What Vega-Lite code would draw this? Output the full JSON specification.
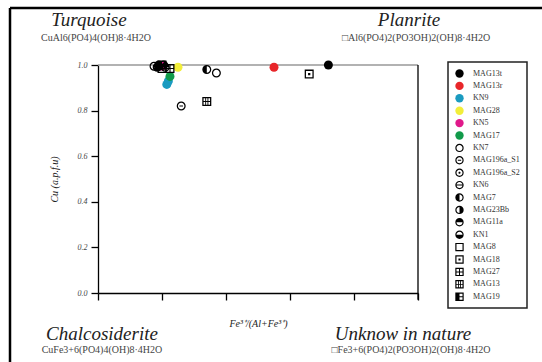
{
  "$schema": "https://vega.github.io/schema/vega-lite/v6.json",
  "autosize": "none",
  "width": 320,
  "height": 228,
  "padding": {"left": 98, "top": 65, "right": 124, "bottom": 69},
  "background": "white",
  "config": {
    "view": {"stroke": null},
    "font": "Liberation Serif",
    "axis": {"grid": false, "domainColor": "#000", "tickColor": "#000", "labelFont": "Liberation Serif", "titleFont": "Liberation Serif", "labelFontStyle": "italic", "titleFontStyle": "italic", "titleFontWeight": "normal", "labelColor": "#444", "titleColor": "#222"},
    "legend": {"strokeColor": "#222", "strokeWidth": 1.5, "padding": 7, "symbolSize": 70, "symbolStrokeWidth": 0, "labelFont": "Liberation Serif", "labelFontSize": 8, "labelColor": "#333", "rowPadding": 3.4, "labelOffset": 9, "fillColor": "white"}
  },
  "datasets": {
    "samples": [
      {"sample": "MAG13t", "fe": 0.72, "cu": 1.0},
      {"sample": "MAG13t", "fe": 0.19, "cu": 1.0},
      {"sample": "MAG13r", "fe": 0.55, "cu": 0.99},
      {"sample": "KN9", "fe": 0.215, "cu": 0.915},
      {"sample": "KN9", "fe": 0.22, "cu": 0.93},
      {"sample": "MAG28", "fe": 0.25, "cu": 0.99},
      {"sample": "KN5", "fe": 0.2, "cu": 0.995},
      {"sample": "MAG17", "fe": 0.225, "cu": 0.95},
      {"sample": "KN7", "fe": 0.37, "cu": 0.965},
      {"sample": "MAG196a_S1", "fe": 0.26, "cu": 0.82},
      {"sample": "MAG196a_S2", "fe": 0.175, "cu": 0.995},
      {"sample": "KN6", "fe": 0.19, "cu": 0.995},
      {"sample": "MAG7", "fe": 0.34, "cu": 0.98},
      {"sample": "MAG23Bb", "fe": 0.205, "cu": 1.0},
      {"sample": "MAG11a", "fe": 0.21, "cu": 0.99},
      {"sample": "KN1", "fe": 0.185, "cu": 0.99},
      {"sample": "MAG8", "fe": 0.2, "cu": 0.985},
      {"sample": "MAG18", "fe": 0.66, "cu": 0.96},
      {"sample": "MAG27", "fe": 0.225, "cu": 0.985},
      {"sample": "MAG13", "fe": 0.34, "cu": 0.84},
      {"sample": "MAG19", "fe": 0.2, "cu": 1.0}
    ],
    "ends": [
      {"name": "Turquoise", "formula": "CuAl6(PO4)4(OH)8·4H2O", "fe": 0, "cu": 1},
      {"name": "Planrite", "formula": "□Al6(PO4)2(PO3OH)2(OH)8·4H2O", "fe": 1, "cu": 1},
      {"name": "Chalcosiderite", "formula": "CuFe3+6(PO4)4(OH)8·4H2O", "fe": 0, "cu": 0},
      {"name": "Unknow in nature", "formula": "□Fe3+6(PO4)2(PO3OH)2(OH)8·4H2O", "fe": 1, "cu": 0}
    ]
  },
  "layer": [
    {
      "data": {"values": [{}]},
      "mark": {"type": "rule", "color": "#000", "strokeWidth": 2.5},
      "encoding": {"x": {"datum": -0.275, "type": "quantitative"}, "y": {"datum": 1.25, "type": "quantitative"}, "y2": {"datum": -0.32}}
    },
    {
      "data": {"values": [{}]},
      "mark": {"type": "rule", "color": "#000", "strokeWidth": 2.5},
      "encoding": {"y": {"datum": 1.25, "type": "quantitative"}, "x": {"datum": -0.275, "type": "quantitative"}, "x2": {"datum": 1.4}}
    },
    {
      "data": {"values": [{}]},
      "mark": {"type": "rule", "color": "#999", "strokeWidth": 1.5},
      "encoding": {"y": {"datum": 1, "type": "quantitative"}}
    },
    {
      "data": {"values": [{}]},
      "mark": {"type": "rule", "color": "#000", "strokeWidth": 1.3},
      "encoding": {"x": {"datum": 1, "type": "quantitative"}, "y": {"datum": -0.03, "type": "quantitative"}, "y2": {"datum": 1}}
    },
    {
      "data": {"name": "samples"},
      "mark": {"type": "point", "filled": true, "size": 81, "strokeWidth": 0, "opacity": 1},
      "encoding": {
        "x": {"field": "fe", "type": "quantitative", "scale": {"domain": [0, 1], "nice": false, "zero": false},
          "axis": {"values": [0, 0.2, 0.4, 0.6, 0.8, 1], "labels": false, "tickSize": 7, "domainWidth": 1.3, "tickWidth": 1.3, "title": "Fe³⁺/(Al+Fe³⁺)", "titleFontSize": 10, "titlePadding": 18}},
        "y": {"field": "cu", "type": "quantitative", "scale": {"domain": [0, 1], "nice": false, "zero": false},
          "axis": {"values": [0, 0.2, 0.4, 0.6, 0.8, 1], "format": ".1f", "tickSize": 7, "domainWidth": 1.3, "tickWidth": 1.3, "labelFontSize": 8, "labelPadding": 4, "title": "Cu (a.p.f.u)", "titleFontSize": 10, "titlePadding": 18}},
        "shape": {"field": "sample", "type": "nominal",
          "scale": {
            "domain": ["MAG13t", "MAG13r", "KN9", "MAG28", "KN5", "MAG17", "KN7", "MAG196a_S1", "MAG196a_S2", "KN6", "MAG7", "MAG23Bb", "MAG11a", "KN1", "MAG8", "MAG18", "MAG27", "MAG13", "MAG19"],
            "range": [
              "circle", "circle", "circle", "circle", "circle", "circle",
              "M-1,0A1,1 0 1,1 1,0A1,1 0 1,1 -1,0Z M-0.72,0A0.72,0.72 0 1,0 0.72,0A0.72,0.72 0 1,0 -0.72,0Z",
              "M-1,0A1,1 0 1,1 1,0A1,1 0 1,1 -1,0Z M-0.72,0A0.72,0.72 0 1,0 0.72,0A0.72,0.72 0 1,0 -0.72,0Z M-0.4,-0.11L0.4,-0.11L0.4,0.11L-0.4,0.11Z",
              "M-1,0A1,1 0 1,1 1,0A1,1 0 1,1 -1,0Z M-0.72,0A0.72,0.72 0 1,0 0.72,0A0.72,0.72 0 1,0 -0.72,0Z M-0.25,0A0.25,0.25 0 1,1 0.25,0A0.25,0.25 0 1,1 -0.25,0Z",
              "M-1,0A1,1 0 1,1 1,0A1,1 0 1,1 -1,0Z M-0.72,0A0.72,0.72 0 1,0 0.72,0A0.72,0.72 0 1,0 -0.72,0Z M-0.75,-0.12L0.75,-0.12L0.75,0.12L-0.75,0.12Z",
              "M-1,0A1,1 0 1,1 1,0A1,1 0 1,1 -1,0Z M-0.72,0A0.72,0.72 0 1,0 0.72,0A0.72,0.72 0 1,0 -0.72,0Z M0,0.72A0.72,0.72 0 0,1 0,-0.72Z",
              "M-1,0A1,1 0 1,1 1,0A1,1 0 1,1 -1,0Z M-0.72,0A0.72,0.72 0 1,0 0.72,0A0.72,0.72 0 1,0 -0.72,0Z M0,-0.72A0.72,0.72 0 0,1 0,0.72Z",
              "M-1,0A1,1 0 1,1 1,0A1,1 0 1,1 -1,0Z M-0.72,0A0.72,0.72 0 1,0 0.72,0A0.72,0.72 0 1,0 -0.72,0Z M-0.72,0A0.72,0.72 0 0,1 0.72,0Z",
              "M-1,0A1,1 0 1,1 1,0A1,1 0 1,1 -1,0Z M-0.72,0A0.72,0.72 0 1,0 0.72,0A0.72,0.72 0 1,0 -0.72,0Z M0.72,0A0.72,0.72 0 0,1 -0.72,0Z",
              "M-1,-1L1,-1L1,1L-1,1Z M-0.72,-0.72L-0.72,0.72L0.72,0.72L0.72,-0.72Z",
              "M-1,-1L1,-1L1,1L-1,1Z M-0.72,-0.72L-0.72,0.72L0.72,0.72L0.72,-0.72Z M-0.25,-0.25L0.25,-0.25L0.25,0.25L-0.25,0.25Z",
              "M-1,-1L1,-1L1,1L-1,1Z M-0.72,-0.72L-0.72,0.72L0.72,0.72L0.72,-0.72Z M-0.12,-0.75L0.12,-0.75L0.12,0.75L-0.12,0.75Z M-0.75,-0.12L0.75,-0.12L0.75,0.12L-0.75,0.12Z",
              "M-1,-1L1,-1L1,1L-1,1Z M-0.72,-0.72L-0.72,0.72L0.72,0.72L0.72,-0.72Z M-0.35,-0.75L-0.15,-0.75L-0.15,0.75L-0.35,0.75Z M0.15,-0.75L0.35,-0.75L0.35,0.75L0.15,0.75Z M-0.75,-0.1L0.75,-0.1L0.75,0.1L-0.75,0.1Z",
              "M-1,-1L1,-1L1,1L-1,1Z M-0.72,-0.72L-0.72,0.72L0.72,0.72L0.72,-0.72Z M-0.75,-0.75L0,-0.75L0,0.75L-0.75,0.75Z M0,-0.12L0.75,-0.12L0.75,0.12L0,0.12Z"
            ]
          },
          "legend": {"title": null, "orient": "none", "legendX": 350, "legendY": -3}
        },
        "fill": {"field": "sample", "type": "nominal",
          "scale": {
            "domain": ["MAG13t", "MAG13r", "KN9", "MAG28", "KN5", "MAG17", "KN7", "MAG196a_S1", "MAG196a_S2", "KN6", "MAG7", "MAG23Bb", "MAG11a", "KN1", "MAG8", "MAG18", "MAG27", "MAG13", "MAG19"],
            "range": ["#000000", "#e8262a", "#1a9bc0", "#f2ee3a", "#e0198a", "#119a4a", "#000000", "#000000", "#000000", "#000000", "#000000", "#000000", "#000000", "#000000", "#000000", "#000000", "#000000", "#000000", "#000000"]
          },
          "legend": {"title": null, "orient": "none", "legendX": 350, "legendY": -3}
        }
      }
    },
    {
      "data": {"name": "ends"},
      "transform": [{"filter": "datum.cu == 1"}],
      "mark": {"type": "text", "font": "Liberation Serif", "fontStyle": "italic", "fontSize": 19, "dy": -45, "dx": -9, "color": "#222"},
      "encoding": {"x": {"field": "fe", "type": "quantitative"}, "y": {"field": "cu", "type": "quantitative"}, "text": {"field": "name"}}
    },
    {
      "data": {"name": "ends"},
      "transform": [{"filter": "datum.cu == 1"}],
      "mark": {"type": "text", "font": "Liberation Serif", "fontSize": 10, "dy": -27, "dx": -2, "color": "#444"},
      "encoding": {"x": {"field": "fe", "type": "quantitative"}, "y": {"field": "cu", "type": "quantitative"}, "text": {"field": "formula"}}
    },
    {
      "data": {"name": "ends"},
      "transform": [{"filter": "datum.cu == 0 && datum.fe == 0"}],
      "mark": {"type": "text", "font": "Liberation Serif", "fontStyle": "italic", "fontSize": 19, "dy": 41, "dx": 4, "color": "#222"},
      "encoding": {"x": {"field": "fe", "type": "quantitative"}, "y": {"field": "cu", "type": "quantitative"}, "text": {"field": "name"}}
    },
    {
      "data": {"name": "ends"},
      "transform": [{"filter": "datum.cu == 0 && datum.fe == 0"}],
      "mark": {"type": "text", "font": "Liberation Serif", "fontSize": 10, "dy": 57, "dx": 4, "color": "#444"},
      "encoding": {"x": {"field": "fe", "type": "quantitative"}, "y": {"field": "cu", "type": "quantitative"}, "text": {"field": "formula"}}
    },
    {
      "data": {"name": "ends"},
      "transform": [{"filter": "datum.cu == 0 && datum.fe == 1"}],
      "mark": {"type": "text", "font": "Liberation Serif", "fontStyle": "italic", "fontSize": 19, "dy": 41, "dx": -15, "color": "#222"},
      "encoding": {"x": {"field": "fe", "type": "quantitative"}, "y": {"field": "cu", "type": "quantitative"}, "text": {"field": "name"}}
    },
    {
      "data": {"name": "ends"},
      "transform": [{"filter": "datum.cu == 0 && datum.fe == 1"}],
      "mark": {"type": "text", "font": "Liberation Serif", "fontSize": 10, "dy": 57, "dx": -7, "color": "#444"},
      "encoding": {"x": {"field": "fe", "type": "quantitative"}, "y": {"field": "cu", "type": "quantitative"}, "text": {"field": "formula"}}
    }
  ]
}
